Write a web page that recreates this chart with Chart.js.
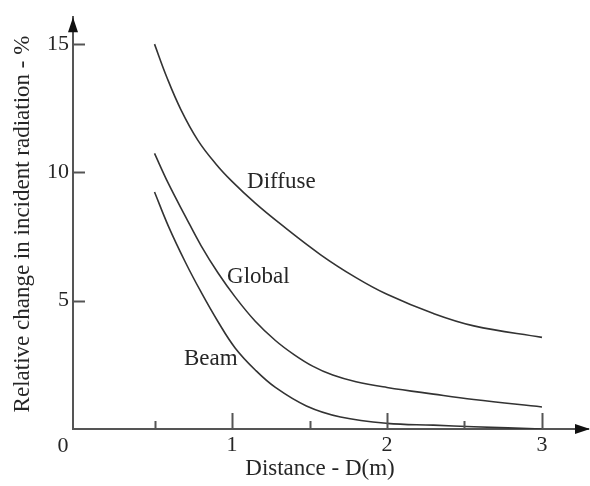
<!DOCTYPE html>
<html>
<head>
<meta charset="utf-8">
<script src="https://cdn.jsdelivr.net/npm/chart.js@4.4.1/dist/chart.umd.min.js"></script>
<style>
  html, body { margin: 0; padding: 0; background: #fff; }
  #wrap { width: 590px; height: 486px; position: relative; }
</style>
</head>
<body>
<div id="wrap"><canvas id="c"></canvas></div>
<script>
// ---- data ----
const diffuseX = [0.5, 0.58, 0.67, 0.78, 0.9, 1.0, 1.15, 1.3, 1.57, 1.8, 2.0, 2.3, 2.56, 3.0];
const diffuseY = [15.0, 13.7, 12.45, 11.25, 10.3, 9.65, 8.8, 8.05, 6.8, 5.9, 5.25, 4.5, 4.02, 3.57];
const globalX  = [0.5, 0.59, 0.7, 0.8, 0.91, 1.02, 1.15, 1.28, 1.4, 1.52, 1.65, 1.8, 2.0, 2.3, 2.56, 3.0];
const globalY  = [10.74, 9.56, 8.28, 7.15, 6.08, 5.15, 4.2, 3.45, 2.9, 2.45, 2.1, 1.84, 1.62, 1.36, 1.15, 0.86];
const beamX    = [0.5, 0.59, 0.7, 0.8, 0.91, 1.02, 1.15, 1.28, 1.48, 1.7, 2.0, 2.3, 2.56, 3.0];
const beamY    = [9.24, 7.9, 6.49, 5.34, 4.18, 3.16, 2.3, 1.62, 0.9, 0.47, 0.22, 0.15, 0.09, 0.0];
const seriesNames = ['Diffuse', 'Global', 'Beam'];
const xTickValues = [0.5, 1, 1.5, 2, 2.5, 3];
const yTickValues = [5, 10, 15];
const xAxisTitle = 'Distance - D(m)';
const yAxisTitle = 'Relative change in incident radiation - %';
const originLabel = '0';
// label anchor points (data units) for the curve names
const labelX = [1.097, 0.968, 0.69];
const labelY = [9.64, 5.91, 2.73];

const toPts = (xs, ys) => xs.map((x, i) => ({x: x, y: ys[i]}));
const SERIF = '"Liberation Serif", "DejaVu Serif", serif';
const INK = '#262626';
const AXIS = '#555555';

const decor = {
  id: 'decor',
  afterDraw(chart) {
    const ctx = chart.ctx;
    const xs = chart.scales.x, ys = chart.scales.y;
    const ca = chart.chartArea;
    const y0 = ca.bottom, x0 = ca.left;
    ctx.save();
    ctx.strokeStyle = AXIS;
    ctx.lineWidth = 2;
    // inward tick marks on x axis
    xTickValues.forEach(v => {
      const px = Math.round(xs.getPixelForValue(v)) + 0.5;
      const len = Number.isInteger(v) ? 16 : 8;
      ctx.beginPath(); ctx.moveTo(px, y0); ctx.lineTo(px, y0 - len); ctx.stroke();
    });
    // inward tick marks on y axis
    yTickValues.forEach(v => {
      const py = Math.round(ys.getPixelForValue(v)) + 0.5;
      ctx.beginPath(); ctx.moveTo(x0, py); ctx.lineTo(x0 + 12, py); ctx.stroke();
    });
    // arrow heads
    ctx.fillStyle = '#111';
    ctx.beginPath();
    ctx.moveTo(x0, ca.top); ctx.lineTo(x0 - 5, ca.top + 15); ctx.lineTo(x0 + 5, ca.top + 15); ctx.closePath(); ctx.fill();
    ctx.beginPath();
    ctx.moveTo(590, y0); ctx.lineTo(575, y0 - 5); ctx.lineTo(575, y0 + 5); ctx.closePath(); ctx.fill();
    // origin label
    ctx.fillStyle = INK;
    ctx.font = '22px ' + SERIF;
    ctx.textAlign = 'center'; ctx.textBaseline = 'middle';
    ctx.fillText(originLabel, 63, 446);
    // x axis title
    ctx.font = '23px ' + SERIF;
    ctx.fillText(xAxisTitle, 320, 469);
    // y axis title
    ctx.save();
    ctx.translate(23, 224);
    ctx.rotate(-Math.PI / 2);
    ctx.fillText(yAxisTitle, 0, 0);
    ctx.restore();
    // curve labels
    ctx.textAlign = 'left';
    ctx.font = '23px ' + SERIF;
    seriesNames.forEach((n, i) => {
      ctx.fillText(n, xs.getPixelForValue(labelX[i]), ys.getPixelForValue(labelY[i]));
    });
    ctx.restore();
  }
};

const lineStyle = {
  borderColor: '#333',
  borderWidth: 1.6,
  pointRadius: 0,
  showLine: true,
  fill: false,
  tension: 0.4
};

new Chart(document.getElementById('c'), {
  type: 'scatter',
  data: {
    datasets: [
      Object.assign({label: seriesNames[0], data: toPts(diffuseX, diffuseY)}, lineStyle),
      Object.assign({label: seriesNames[1], data: toPts(globalX, globalY)}, lineStyle),
      Object.assign({label: seriesNames[2], data: toPts(beamX, beamY)}, lineStyle)
    ]
  },
  options: {
    responsive: true,
    maintainAspectRatio: false,
    animation: false,
    layout: { padding: { top: 11, right: 2, left: 0, bottom: 0 } },
    plugins: { legend: { display: false }, tooltip: { enabled: false } },
    scales: {
      x: {
        type: 'linear',
        min: -0.026,
        max: 3.297,
        afterBuildTicks: s => { s.ticks = xTickValues.map(v => ({value: v})); },
        afterFit: s => { s.height = 57; },
        grid: { display: true, drawOnChartArea: false, drawTicks: false },
        border: { display: true, color: AXIS, width: 2 },
        ticks: {
          autoSkip: false, maxRotation: 0, padding: 3,
          color: INK,
          font: { family: SERIF, size: 22 },
          callback: v => Number.isInteger(v) ? String(v) : ''
        }
      },
      y: {
        type: 'linear',
        min: 0,
        max: 16.05,
        afterBuildTicks: s => { s.ticks = yTickValues.map(v => ({value: v})); },
        afterFit: s => { s.width = 73; },
        grid: { display: true, drawOnChartArea: false, drawTicks: false },
        border: { display: true, color: AXIS, width: 2 },
        ticks: {
          padding: 4,
          color: INK,
          font: { family: SERIF, size: 22 },
          callback: v => String(v)
        }
      }
    }
  },
  plugins: [decor]
});
</script>
</body>
</html>
